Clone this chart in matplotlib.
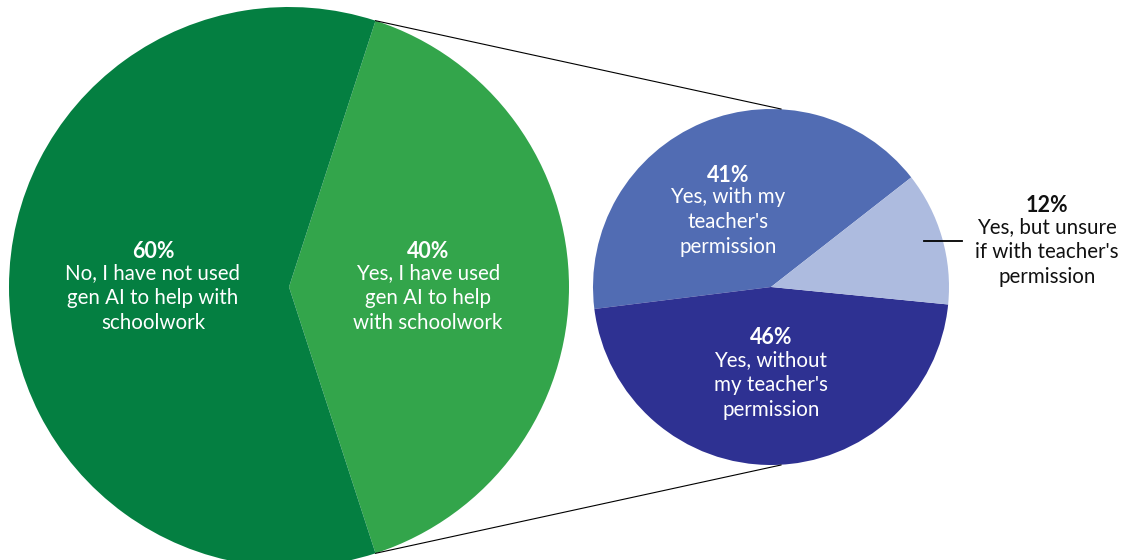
import numpy as np
import matplotlib.pyplot as plt

plt.rcParams['font.family'] = ['Lato', 'DejaVu Sans']

# Outer question: used gen AI for schoolwork?
main_labels = ['Yes, I have used\ngen AI to help\nwith schoolwork',
               'No, I have not used\ngen AI to help with\nschoolwork']
main_values = [40, 60]
main_colors = ['#33A54B', '#047F41']

# Breakdown of the "yes" group
sub_labels = ["Yes, with my\nteacher's\npermission",
              "Yes, without\nmy teacher's\npermission",
              "Yes, but unsure\nif with teacher's\npermission"]
sub_values = [41, 46, 12]
sub_colors = ['#516CB3', '#2E3192', '#ADBBDF']

W, H = 1122, 560
fig = plt.figure(figsize=(W / 100, H / 100), dpi=100)
ax = fig.add_axes([0, 0, 1, 1])

big_c, big_r = (289, H - 287), 280
small_c, small_r = (771, H - 287), 178

# main pie, "yes" wedge centred on the right
start_main = -main_values[0] / 100 * 360 / 2
ax.pie(main_values, colors=main_colors, startangle=start_main, counterclock=True,
       center=big_c, radius=big_r, wedgeprops=dict(linewidth=0))

# sub pie
ax.pie(sub_values, colors=sub_colors, startangle=38, counterclock=True,
       center=small_c, radius=small_r, wedgeprops=dict(linewidth=0))

# connector lines from the "yes" wedge edges to the sub pie
for ang, sign in [(-start_main, 1), (start_main, -1)]:
    a = np.deg2rad(ang)
    x0 = big_c[0] + big_r * np.cos(a)
    y0 = big_c[1] + big_r * np.sin(a)
    x1 = small_c[0] + 10
    y1 = small_c[1] + sign * small_r
    ax.plot([x0, x1], [y0, y1], color='black', lw=0.8)

def label(x, y, pct, text, color='white'):
    ax.text(x, H - y, f'{pct}%', color=color, fontsize=15.5, fontweight='bold',
            ha='center', va='center')
    ax.text(x, H - y - 47, text, color=color, fontsize=14.8, ha='center',
            va='center', linespacing=1.3)

label(428, 251, main_values[0], main_labels[0])
label(153, 251, main_values[1], main_labels[1])
label(728, 175, sub_values[0], sub_labels[0])
label(771, 338, sub_values[1], sub_labels[1])
label(1047, 205, sub_values[2], sub_labels[2], color='#111111')

# leader line for the small slice
ax.plot([924, 962], [H - 241, H - 241], color='black', lw=1.3)

ax.set_xlim(0, W)
ax.set_ylim(0, H)
ax.set_aspect('auto')
ax.axis('off')

fig.savefig('out.png', dpi=100)
